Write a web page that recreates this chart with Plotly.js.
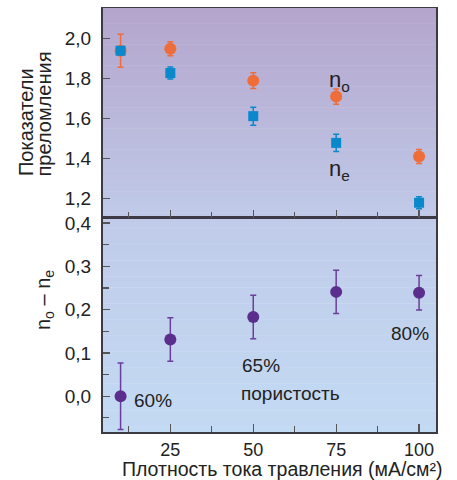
<!DOCTYPE html>
<html>
<head>
<meta charset="utf-8">
<script src="https://cdn.plot.ly/plotly-3.0.1.min.js"></script>
<style>html,body{margin:0;padding:0;background:#fff;}#chart{width:457px;height:480px;}</style>
</head>
<body>
<div id="chart"></div>
<script>
// Data (current density, mA/cm^2)
var current = [10, 25, 50, 75, 100];
var nO = [1.94, 1.95, 1.79, 1.71, 1.41];
var nOErr = [0.083, 0.035, 0.04, 0.038, 0.035];
var nE = [1.94, 1.828, 1.612, 1.478, 1.178];
var nEErr = [0.02, 0.03, 0.045, 0.043, 0.03];
var diff = [0.0, 0.131, 0.183, 0.241, 0.239];
var diffErr = [0.077, 0.05, 0.05, 0.05, 0.04];
var xTicks = [25, 50, 75, 100];
var porosityLabels = ['60%', '65%', '80%'];

var FONT = 'Liberation Sans, Arial, Helvetica, sans-serif';
var AXC = '#3d3a45';

function lerp(a, b, t) { return Math.round(a + (b - a) * t); }
function mix(c1, c2, t) {
  return 'rgb(' + lerp(c1[0], c2[0], t) + ',' + lerp(c1[1], c2[1], t) + ',' + lerp(c1[2], c2[2], t) + ')';
}
function gradient(yref, cTop, cBot, n) {
  var s = [];
  for (var i = 0; i < n; i++) {
    s.push({type: 'rect', xref: 'x domain', yref: yref, x0: 0, x1: 1,
      y0: 1 - (i + 1) / n, y1: 1 - i / n + 0.002, layer: 'below',
      line: {width: 0}, fillcolor: mix(cTop, cBot, (i + 0.5) / n)});
  }
  return s;
}

var traces = [
  {x: current, y: nO, xaxis: 'x2', yaxis: 'y2', type: 'scatter', mode: 'markers', name: 'n_o',
   marker: {symbol: 'circle', size: 12, color: '#ee6d39'},
   error_y: {type: 'data', array: nOErr, color: '#ee6d39', thickness: 1.5, width: 3}},
  {x: current, y: nE, xaxis: 'x2', yaxis: 'y2', type: 'scatter', mode: 'markers', name: 'n_e',
   marker: {symbol: 'square', size: 10, color: '#0a88cc'},
   error_y: {type: 'data', array: nEErr, color: '#0a88cc', thickness: 1.5, width: 3}},
  {x: current, y: diff, xaxis: 'x', yaxis: 'y', type: 'scatter', mode: 'markers', name: 'diff',
   marker: {symbol: 'circle', size: 12, color: '#5b2e8d'},
   error_y: {type: 'data', array: diffErr, color: '#6a3e9a', thickness: 1.5, width: 3}}
];

var shapes = gradient('y2 domain', [180, 165, 204], [192, 202, 232], 40)
  .concat(gradient('y domain', [192, 203, 233], [195, 218, 243], 40));

var annFont = {family: FONT, size: 19, color: '#222'};
var titleFont = {family: FONT, size: 20, color: '#222'};
var layout = {
  width: 457, height: 480,
  margin: {l: 103, r: 21, t: 8, b: 48},
  paper_bgcolor: '#ffffff', plot_bgcolor: 'rgba(0,0,0,0)',
  separators: ', ',
  showlegend: false,
  font: {family: FONT, size: 19, color: '#222'},
  xaxis: {domain: [0, 1], anchor: 'y', range: [4.7, 105.1], tickvals: xTicks,
    ticks: 'inside', ticklen: 8, tickwidth: 1.2, tickcolor: '#555',
    minor: {tickvals: [12.5, 37.5, 62.5, 87.5], ticks: 'inside', ticklen: 6, tickcolor: '#555', tickwidth: 1.2},
    showline: true, linecolor: AXC, linewidth: 2, mirror: true, showgrid: false, zeroline: false,
    automargin: false,
    tickfont: {family: FONT, size: 18, color: '#222'},
    title: {text: ''}},
  xaxis2: {domain: [0, 1], anchor: 'y2', matches: 'x', range: [4.7, 105.1], tickvals: xTicks,
    showticklabels: false, ticks: 'inside', ticklen: 8, tickwidth: 1.2, tickcolor: '#555',
    minor: {tickvals: [12.5, 37.5, 62.5, 87.5], ticks: 'inside', ticklen: 6, tickcolor: '#555', tickwidth: 1.2},
    showline: true, linecolor: AXC, linewidth: 1, mirror: true, showgrid: false, zeroline: false},
  yaxis: {domain: [0, 0.5047], anchor: 'x', range: [-0.0826, 0.4116],
    tickvals: [0, 0.1, 0.2, 0.3, 0.4], tickformat: '.1f',
    ticks: 'inside', ticklen: 7, tickwidth: 1.2, tickcolor: '#555',
    minor: {tickvals: [-0.05, 0.05, 0.15, 0.25, 0.35], ticks: 'inside', ticklen: 6, tickcolor: '#555', tickwidth: 1.2},
    showline: true, linecolor: AXC, linewidth: 2, mirror: true, showgrid: false, zeroline: false,
    ticklabelstandoff: 6, automargin: false,
    tickfont: {family: FONT, size: 19, color: '#222'}},
  yaxis2: {domain: [0.5047, 1], anchor: 'x2', range: [1.1015, 2.154],
    tickvals: [1.2, 1.4, 1.6, 1.8, 2.0], tickformat: '.1f',
    ticks: 'inside', ticklen: 7, tickwidth: 1.2, tickcolor: '#555',
    showline: true, linecolor: AXC, linewidth: 2, mirror: true, showgrid: false, zeroline: false,
    ticklabelstandoff: 6, automargin: false,
    tickfont: {family: FONT, size: 19, color: '#222'}},
  shapes: shapes,
  annotations: [
    // axis titles
    {xref: 'paper', yref: 'paper', x: 0.5375, y: -0.0875, xanchor: 'center', yanchor: 'middle',
     text: 'Плотность тока травления (мА/см²)', showarrow: false, font: {family: FONT, size: 19.5, color: '#222'}},
    {xref: 'paper', yref: 'paper', x: -0.2312, y: 0.599, xanchor: 'center', yanchor: 'bottom', textangle: -90,
     text: 'Показатели', showarrow: false, font: titleFont},
    {xref: 'paper', yref: 'paper', x: -0.1772, y: 0.599, xanchor: 'center', yanchor: 'bottom', textangle: -90,
     text: 'преломления', showarrow: false, font: titleFont},
    {xref: 'paper', yref: 'paper', x: -0.1772, y: 0.3113, xanchor: 'center', yanchor: 'middle', textangle: -90,
     text: 'n<sub>o</sub> – n<sub>e</sub>', showarrow: false, font: titleFont},
    // in-plot labels
    {xref: 'x2', yref: 'y2', x: 76, y: 1.79, text: 'n<sub>o</sub>', showarrow: false, font: {family: FONT, size: 22, color: '#222'}},
    {xref: 'x2', yref: 'y2', x: 76, y: 1.34, text: 'n<sub>e</sub>', showarrow: false, font: {family: FONT, size: 22, color: '#222'}},
    {xref: 'x', yref: 'y', x: 19.9, y: -0.01, text: porosityLabels[0], showarrow: false, font: annFont},
    {xref: 'x', yref: 'y', x: 52.4, y: 0.072, text: porosityLabels[1], showarrow: false, font: annFont},
    {xref: 'x', yref: 'y', x: 61.1, y: 0.007, text: 'пористость', showarrow: false, font: annFont},
    {xref: 'x', yref: 'y', x: 97.3, y: 0.146, text: porosityLabels[2], showarrow: false, font: annFont}
  ]
};

Plotly.newPlot('chart', traces, layout, {staticPlot: true, displayModeBar: false});
</script>
</body>
</html>
